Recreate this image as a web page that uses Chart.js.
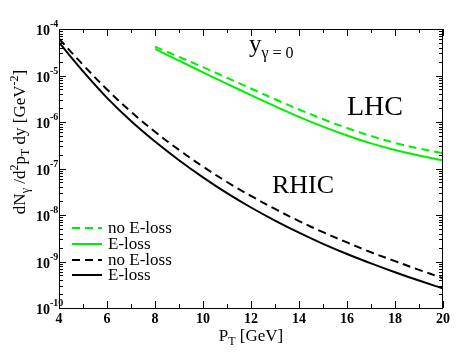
<!DOCTYPE html>
<html>
<head>
<meta charset="utf-8">
<script src="https://cdn.jsdelivr.net/npm/chart.js@4.4.1/dist/chart.umd.min.js"></script>
<style>
  html, body { margin: 0; padding: 0; background: #fff; }
  #wrap { width: 458px; height: 354px; }
</style>
</head>
<body>
<div id="wrap"><canvas id="photonChart" width="458" height="354"></canvas></div>
<script>
// values
const ptRhic = [4, 5, 6, 7, 8, 9, 10, 11, 12, 13, 14, 15, 16, 17, 18, 19, 20];
const rhicNoLoss = [6.17e-5, 1.70e-5, 5.01e-6, 1.66e-6, 6.17e-7, 2.51e-7, 1.10e-7, 5.13e-8, 2.57e-8,
  1.35e-8, 7.41e-9, 4.27e-9, 2.57e-9, 1.58e-9, 1.02e-9, 6.61e-10, 4.37e-10];
const rhicLoss = [5.13e-5, 1.23e-5, 3.31e-6, 1.05e-6, 3.80e-7, 1.51e-7, 6.46e-8, 2.95e-8, 1.45e-8,
  7.59e-9, 4.17e-9, 2.40e-9, 1.45e-9, 9.12e-10, 5.89e-10, 3.89e-10, 2.63e-10];

const ptLhc = [8, 9, 10, 11, 12, 13, 14, 15, 16, 17, 18, 19, 20];
const lhcNoLoss = [4.17e-5, 2.51e-5, 1.51e-5, 8.91e-6, 5.25e-6, 3.09e-6, 1.86e-6, 1.15e-6, 7.41e-7,
  5.01e-7, 3.55e-7, 2.69e-7, 2.14e-7];
const lhcLoss = [3.72e-5, 2.09e-5, 1.17e-5, 6.61e-6, 3.80e-6, 2.19e-6, 1.29e-6, 7.94e-7, 5.13e-7,
  3.47e-7, 2.51e-7, 1.91e-7, 1.48e-7];

const xTicks = [4, 6, 8, 10, 12, 14, 16, 18, 20];
const yExponents = [-10, -9, -8, -7, -6, -5, -4];
const legendLabels = ['no E-loss', 'E-loss', 'no E-loss', 'E-loss'];

const SERIF = '"Liberation Serif", "DejaVu Serif", serif';
const GREEN = '#00ee00';

function pts(xs, ys) {
  return xs.map((x, i) => ({ x: x, y: ys[i] }));
}

// draws text pieces with sub/superscripts, starting at x, baseline y
function richText(ctx, parts, x, y, measureOnly) {
  let w = 0;
  parts.forEach(p => {
    ctx.font = (p.bold ? 'bold ' : '') + p.size + 'px ' + SERIF;
    if (!measureOnly) ctx.fillText(p.t, x + w, y + (p.dy || 0));
    w += ctx.measureText(p.t).width;
  });
  return w;
}

const decorations = {
  id: 'decorations',
  afterDraw(chart) {
    const ctx = chart.ctx;
    const a = chart.chartArea;
    const xs = chart.scales.x, ys = chart.scales.y;
    ctx.save();
    ctx.strokeStyle = '#000';
    ctx.fillStyle = '#000';
    ctx.textAlign = 'left';
    ctx.lineWidth = 1;
    ctx.strokeRect(a.left + 0.5, a.top + 0.5, a.right - a.left - 1, a.bottom - a.top);

    // inward ticks on all four sides
    ctx.beginPath();
    for (let v = 4; v <= 20; v++) {
      const px = Math.round(xs.getPixelForValue(v)) + 0.5;
      const len = v % 2 === 0 ? 7 : 4;
      ctx.moveTo(px, a.bottom); ctx.lineTo(px, a.bottom - len);
      ctx.moveTo(px, a.top); ctx.lineTo(px, a.top + len);
    }
    yExponents.forEach(e => {
      for (let m = 1; m <= 9; m++) {
        if (e === -4 && m > 1) break;
        const py = Math.round(ys.getPixelForValue(m * Math.pow(10, e))) + 0.5;
        const len = m === 1 ? 7 : 4;
        ctx.moveTo(a.left, py); ctx.lineTo(a.left + len, py);
        ctx.moveTo(a.right, py); ctx.lineTo(a.right - len, py);
      }
    });
    ctx.stroke();

    // y tick labels 10^n
    ctx.textBaseline = 'alphabetic';
    yExponents.forEach(e => {
      const py = ys.getPixelForValue(Math.pow(10, e));
      ctx.font = 'bold 14px ' + SERIF;
      const w10 = ctx.measureText('10').width;
      ctx.fillText('10', 50 - w10, py + 6);
      ctx.font = 'bold 10px ' + SERIF;
      ctx.fillText(String(e), 50, py - 2);
    });

    // x title
    const xt = [{ t: 'P', size: 17 }, { t: 'T', size: 12, dy: 4 }, { t: ' [GeV]', size: 17 }];
    const xw = richText(ctx, xt, 0, 0, true);
    richText(ctx, xt, (a.left + a.right) / 2 - xw / 2, 341);

    // y title, rotated
    const yt = [{ t: 'dN', size: 17 }, { t: 'γ', size: 12, dy: 4 }, { t: ' /d', size: 17 },
      { t: '2', size: 12, dy: -7 }, { t: 'p', size: 17 }, { t: 'T', size: 12, dy: 4 },
      { t: ' dy [GeV', size: 17 }, { t: '-2', size: 12, dy: -7 }, { t: ']', size: 17 }];
    const yw = richText(ctx, yt, 0, 0, true);
    ctx.save();
    ctx.translate(25, 142);
    ctx.rotate(-Math.PI / 2);
    richText(ctx, yt, -yw / 2, 0);
    ctx.restore();

    // labels in the plot
    richText(ctx, [{ t: 'y', size: 25 }, { t: 'γ = 0', size: 16, dy: 6 }], 249, 52);
    ctx.font = '28px ' + SERIF;
    ctx.fillText('LHC', 347, 115);
    ctx.font = '26px ' + SERIF;
    ctx.fillText('RHIC', 272, 193);

    // legend
    const rows = [228, 244, 260, 275];
    chart.data.datasets.forEach((ds, i) => {
      ctx.strokeStyle = ds.borderColor;
      ctx.lineWidth = 2;
      ctx.setLineDash(ds.borderDash || []);
      ctx.beginPath();
      ctx.moveTo(72, rows[i]); ctx.lineTo(102, rows[i]);
      ctx.stroke();
      ctx.setLineDash([]);
      ctx.font = '17px ' + SERIF;
      ctx.fillText(legendLabels[i], 108, rows[i] + 5);
    });
    ctx.restore();
  }
};

const lineStyle = { pointRadius: 0, borderWidth: 2, fill: false, tension: 0.4 };

new Chart(document.getElementById('photonChart').getContext('2d'), {
  type: 'line',
  data: {
    datasets: [
      Object.assign({ label: 'LHC no E-loss', data: pts(ptLhc, lhcNoLoss), borderColor: GREEN, borderDash: [8, 5] }, lineStyle),
      Object.assign({ label: 'LHC E-loss', data: pts(ptLhc, lhcLoss), borderColor: GREEN }, lineStyle),
      Object.assign({ label: 'RHIC no E-loss', data: pts(ptRhic, rhicNoLoss), borderColor: '#000', borderDash: [8, 5] }, lineStyle),
      Object.assign({ label: 'RHIC E-loss', data: pts(ptRhic, rhicLoss), borderColor: '#000' }, lineStyle)
    ]
  },
  options: {
    responsive: false,
    animation: false,
    layout: { padding: { top: 29, right: 15, left: 0, bottom: 0 } },
    plugins: { legend: { display: false }, tooltip: { enabled: false } },
    scales: {
      x: {
        type: 'linear', min: 4, max: 20,
        afterFit: s => { s.height = 46; },
        afterBuildTicks: s => { s.ticks = xTicks.map(v => ({ value: v })); },
        grid: { display: false, drawTicks: false },
        border: { display: false },
        ticks: {
          padding: 3, color: '#000',
          font: { family: SERIF, size: 14, weight: 'bold' }
        }
      },
      y: {
        type: 'logarithmic', min: 1e-10, max: 1e-4,
        afterFit: s => { s.width = 59; },
        grid: { display: false },
        border: { display: false },
        ticks: { display: false }
      }
    }
  },
  plugins: [decorations]
});
</script>
</body>
</html>
